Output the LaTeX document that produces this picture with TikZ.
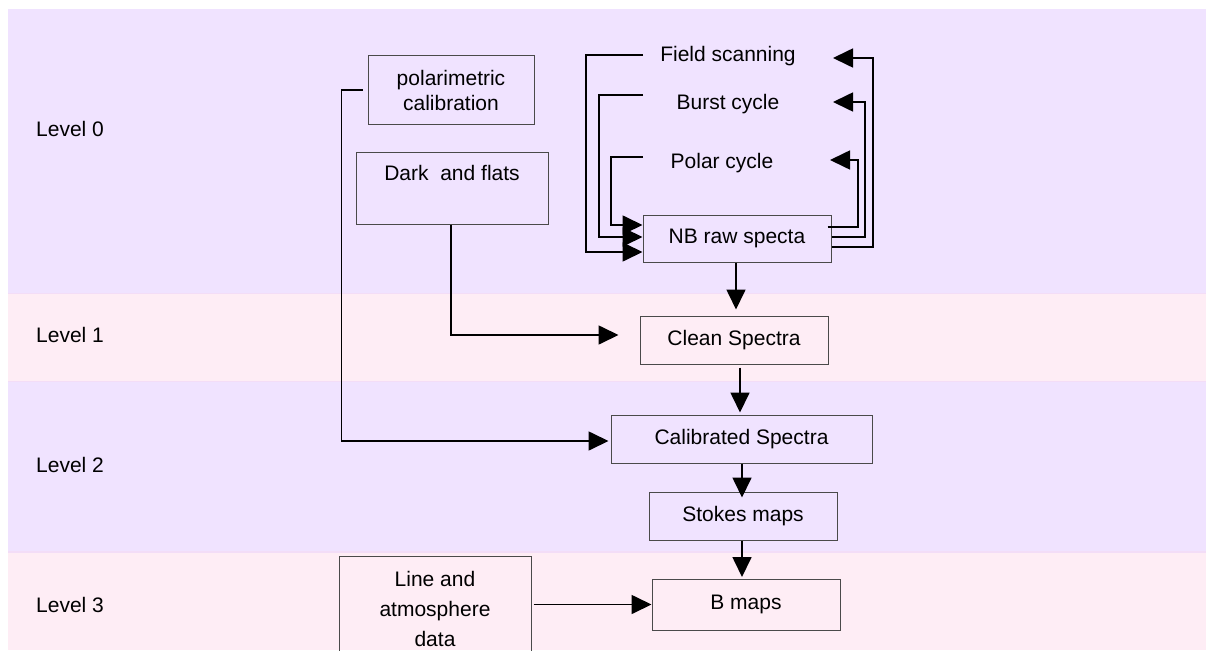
\documentclass[tikz,border=0pt]{standalone}
\usepackage{fontspec}
\setmainfont{Liberation Sans}
\usetikzlibrary{arrows.meta,calc}

\definecolor{bandlav}{HTML}{F0E3FF}
\definecolor{bandpink}{HTML}{FEEDF5}
\definecolor{bandedge}{HTML}{F3DDF7}
\definecolor{boxline}{HTML}{4A4A4A}

\tikzset{
  stage/.style={draw=boxline, line width=1pt, inner sep=0pt, align=center,
    font=\fontsize{21}{25}\selectfont},
  lvl/.style={anchor=west, inner sep=0pt, font=\fontsize{21}{25}\selectfont},
  cyc/.style={inner sep=0pt, font=\fontsize{21}{25}\selectfont},
  conn/.style={line width=1.7pt, -{Triangle[length=20pt,width=19pt]}}
}

\begin{document}
\begin{tikzpicture}[x=1pt,y=-1pt]
  \clip (0,0) rectangle (1206,650);

  % level bands
  \fill[bandlav]  (8,9)   rectangle (1206,293);
  \fill[bandpink] (8,293) rectangle (1206,381);
  \fill[bandlav]  (8,381) rectangle (1206,552);
  \fill[bandpink] (8,552) rectangle (1206,650);
  \draw[bandedge, line width=0.8pt] (8,293) -- (1206,293);
  \draw[bandedge, line width=0.8pt] (8,381) -- (1206,381);
  \draw[bandedge, line width=1.2pt] (8,552) -- (1206,552);

  % level labels
  \node[lvl] (l0) at (36,129) {Level 0};
  \node[lvl] (l1) at (36,335) {Level 1};
  \node[lvl] (l2) at (36,465) {Level 2};
  \node[lvl] (l3) at (36,605) {Level 3};

  % processing stages
  \node[stage, minimum width=166pt, minimum height=68pt] (polcal) at (451,90)
    {polarimetric\\calibration};
  \node[stage, minimum width=192pt, minimum height=72pt] (dark) at (452,188)
    {Dark\ \ and flats\\[6pt]\mbox{}};
  \node[stage, minimum width=188pt, minimum height=47pt] (nbraw) at (737,238.5)
    {NB raw specta};
  \node[stage, minimum width=188pt, minimum height=48pt] (clean) at (734,340)
    {Clean Spectra};
  \node[stage, minimum width=261pt, minimum height=48pt] (calib) at (741.5,439)
    {Calibrated Spectra};
  \node[stage, minimum width=188pt, minimum height=48pt] (stokes) at (743,516)
    {Stokes maps};
  \node[stage, minimum width=188pt, minimum height=51pt] (bmaps) at (746,604.5)
    {B maps};
  \node[stage, minimum width=192pt, minimum height=106pt,
        font=\fontsize{21}{30}\selectfont] (lineatm) at (435,609)
    {Line and\\atmosphere\\data};

  % acquisition cycles
  \node[cyc] (fs) at (728,56)  {Field scanning};
  \node[cyc] (bc) at (728,104) {Burst cycle};
  \node[cyc] (pc) at (722,163) {Polar cycle};
  \coordinate (fsL) at (643,55);
  \coordinate (bcL) at (643,95);
  \coordinate (pcL) at (643,157);
  \coordinate (fsR) at (833,58);
  \coordinate (bcR) at (833,102);
  \coordinate (pcR) at (830,160);

  % cycles feeding the raw spectra
  \draw[conn] (fsL) -- (586,55) |- (nbraw.west |- 0,252);
  \draw[conn] (bcL) -- (599,95) |- (nbraw.west |- 0,237);
  \draw[conn] (pcL) -- (611,157) |- (nbraw.west |- 0,225);

  % raw spectra returning to the cycles
  \draw[conn] (nbraw.east |- 0,247) -- (873,247) |- (fsR);
  \draw[conn] (nbraw.east |- 0,237) -- (865,237) |- (bcR);
  \draw[conn, shorten <=-4pt] (nbraw.east |- 0,227) -- (858,227) |- (pcR);

  % main pipeline
  \draw[conn, shorten >=6pt] ([xshift=-1pt]nbraw.south) -- ([xshift=-1pt]nbraw.south |- clean.north);
  \draw[conn, shorten <=3pt, shorten >=2pt] ([xshift=6pt]clean.south) -- ([xshift=6pt]clean.south |- calib.north);
  \draw[conn, shorten >=-6pt] ([xshift=0.5pt]calib.south) -- ([xshift=0.5pt]calib.south |- stokes.north);
  \draw[conn, shorten >=1.5pt] ([xshift=-1pt]stokes.south) -- ([xshift=-1pt]stokes.south |- bmaps.north);

  % calibration inputs
  \draw[conn, shorten >=21pt] ([xshift=-1pt]dark.south) |- ([yshift=5pt]clean.west);
  \draw[conn, shorten >=2pt] ([xshift=-5pt]polcal.west) -- ++(-21,0) |- ([yshift=-2pt]calib.west);
  \draw[conn, shorten <=2pt] (lineatm.east |- bmaps.west) -- (bmaps.west);
\end{tikzpicture}
\end{document}
